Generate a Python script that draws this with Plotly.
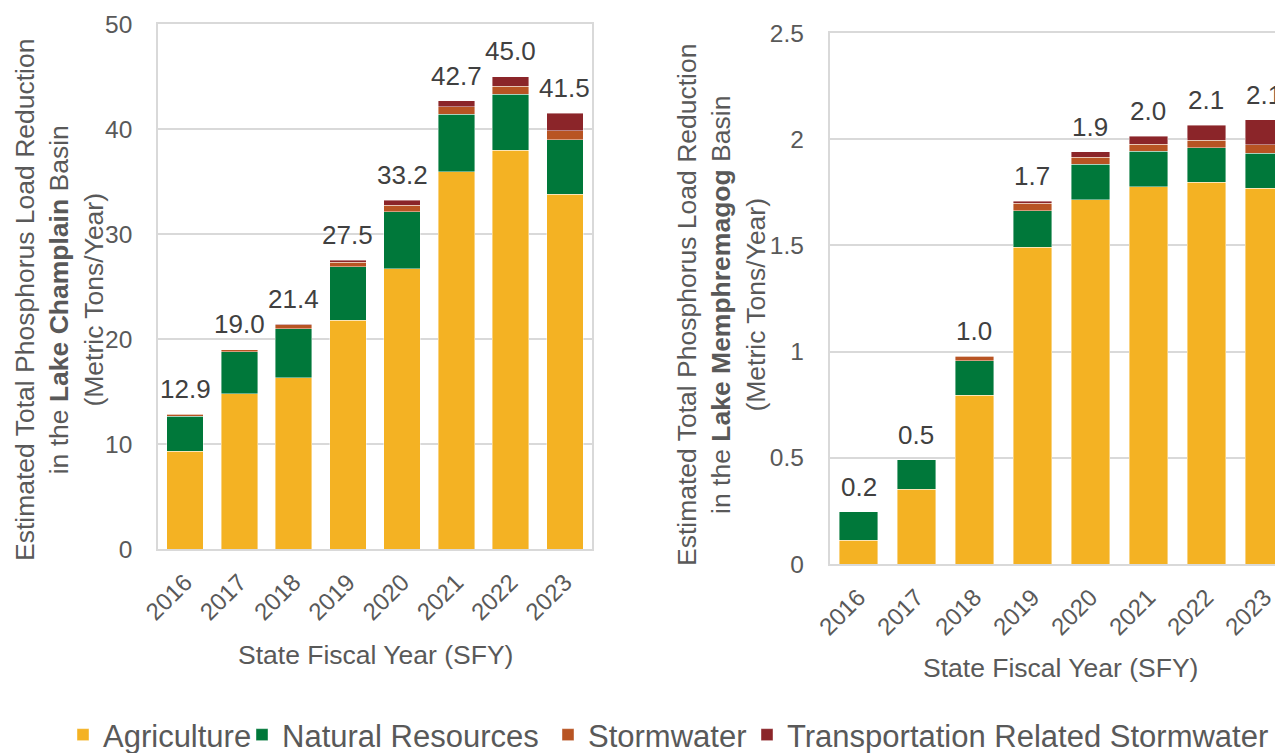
import plotly.graph_objects as go

years = ["2016", "2017", "2018", "2019", "2020", "2021", "2022", "2023"]

# Lake Champlain (metric tons/year)
lc_agriculture = [9.3, 14.8, 16.3, 21.8, 26.7, 35.95, 38.0, 33.8]
lc_natural = [3.35, 4.0, 4.7, 5.1, 5.4, 5.45, 5.3, 5.2]
lc_stormwater = [0.2, 0.2, 0.35, 0.4, 0.65, 0.7, 0.75, 0.85]
lc_transport = [0.05, 0.0, 0.05, 0.2, 0.45, 0.6, 0.95, 1.65]

# Lake Memphremagog (metric tons/year)
lm_agriculture = [0.112, 0.351, 0.795, 1.492, 1.714, 1.775, 1.798, 1.769]
lm_natural = [0.135, 0.14, 0.163, 0.171, 0.168, 0.169, 0.162, 0.165]
lm_stormwater = [0.0, 0.0, 0.02, 0.035, 0.033, 0.033, 0.035, 0.039]
lm_transport = [0.0, 0.0, 0.003, 0.011, 0.025, 0.036, 0.071, 0.118]

series_names = ["Agriculture", "Natural Resources", "Stormwater", "Transportation Related Stormwater"]
colors = ["#F4B223", "#00783A", "#B85423", "#8B2529"]

# page has an 8px body margin: figure drawn from (8, 8)
OFF = 8
W, H = 1283 - OFF, 753 - OFF
FONT = "Liberation Sans, Arial, sans-serif"
GRID = "#D9D9D9"
TXT = "#595959"


def px(x):
    return (x - OFF) / W


def py(y):
    return 1 - (y - OFF) / H


fig = go.Figure()

lc = [lc_agriculture, lc_natural, lc_stormwater, lc_transport]
lm = [lm_agriculture, lm_natural, lm_stormwater, lm_transport]
legend_ids = ["legend", "legend2", "legend3", "legend4"]

for i, name in enumerate(series_names):
    fig.add_trace(go.Bar(x=years, y=lc[i], name=name,
                         marker=dict(color=colors[i], line=dict(color="rgba(255,255,255,0.6)", width=0.7)),
                         xaxis="x", yaxis="y", legendgroup=name, showlegend=True, legend=legend_ids[i]))
for i, name in enumerate(series_names):
    fig.add_trace(go.Bar(x=years, y=lm[i], name=name,
                         marker=dict(color=colors[i], line=dict(color="rgba(255,255,255,0.6)", width=0.7)),
                         xaxis="x2", yaxis="y2", legendgroup=name, showlegend=False))

lc_tot = [sum(v) for v in zip(*lc)]
lm_tot = [sum(v) for v in zip(*lm)]
for idx, t in enumerate(lc_tot):
    fig.add_annotation(x=idx, y=t, xref="x", yref="y", text=f"{t:.1f}", showarrow=False,
                       xanchor="center", yanchor="middle", yshift=25,
                       font=dict(size=26, color="#404040", family=FONT))
for idx, t in enumerate(lm_tot):
    fig.add_annotation(x=idx, y=t, xref="x2", yref="y2", text=f"{t:.1f}", showarrow=False,
                       xanchor="center", yanchor="middle", yshift=25,
                       font=dict(size=26, color="#404040", family=FONT))

axis_common = dict(showline=True, linecolor=GRID, linewidth=1.5, mirror=True, automargin=False, ticks="")

fig.update_layout(
    width=W, height=H,
    margin=dict(l=0, r=0, t=0, b=0, autoexpand=False),
    paper_bgcolor="white", plot_bgcolor="white",
    barmode="stack", bargap=0.33,
    font=dict(family=FONT, color=TXT),
    xaxis=dict(domain=[px(158), px(592)], anchor="y", type="category", range=[-0.5, 7.5],
               tickangle=-45, showgrid=False, ticklabelstandoff=8,
               tickfont=dict(size=24, color=TXT, family=FONT), **axis_common),
    yaxis=dict(domain=[py(549), py(24)], anchor="x", range=[0, 50], dtick=10,
               showgrid=True, gridcolor=GRID, gridwidth=1.5, zeroline=False, ticklabelstandoff=19,
               tickfont=dict(size=24.5, color=TXT, family=FONT), **axis_common),
    xaxis2=dict(domain=[px(829.5), 1.0], anchor="y2", type="category", range=[-0.5, 7.32],
                tickangle=-45, showgrid=False, ticklabelstandoff=8,
                tickfont=dict(size=24, color=TXT, family=FONT), **axis_common),
    yaxis2=dict(domain=[py(564), py(33)], anchor="x2", range=[0, 2.5], dtick=0.5,
                showgrid=True, gridcolor=GRID, gridwidth=1.5, zeroline=False, ticklabelstandoff=19,
                tickfont=dict(size=24.5, color=TXT, family=FONT), **axis_common),
)

# one legend per entry so each entry sits where the reference puts it
text_starts = [103, 282, 588, 787]
for lid, ts in zip(legend_ids, text_starts):
    fig.update_layout({lid: dict(orientation="h", x=px(ts - 40), y=py(735), xanchor="left", yanchor="middle",
                                 font=dict(size=31, color=TXT, family=FONT), bgcolor="rgba(0,0,0,0)",
                                 itemwidth=30)})

fig.add_annotation(x=px(375), y=py(655), xref="paper", yref="paper", text="State Fiscal Year (SFY)",
                   xanchor="center", yanchor="middle", showarrow=False, font=dict(size=26.5, color=TXT, family=FONT))
fig.add_annotation(x=px(1060), y=py(668), xref="paper", yref="paper", text="State Fiscal Year (SFY)",
                   xanchor="center", yanchor="middle", showarrow=False, font=dict(size=26.5, color=TXT, family=FONT))
fig.add_annotation(x=px(59), y=py(300), xref="paper", yref="paper", textangle=-90,
                   xanchor="center", yanchor="middle",
                   text="Estimated Total Phosphorus Load Reduction<br>in the <b>Lake Champlain</b> Basin<br>(Metric Tons/Year)",
                   showarrow=False, font=dict(size=26.5, color=TXT, family=FONT))
fig.add_annotation(x=px(722), y=py(305), xref="paper", yref="paper", textangle=-90,
                   xanchor="center", yanchor="middle",
                   text="Estimated Total Phosphorus Load Reduction<br>in the <b>Lake Memphremagog</b> Basin<br>(Metric Tons/Year)",
                   showarrow=False, font=dict(size=26.5, color=TXT, family=FONT))

fig.write_html("out.html")
